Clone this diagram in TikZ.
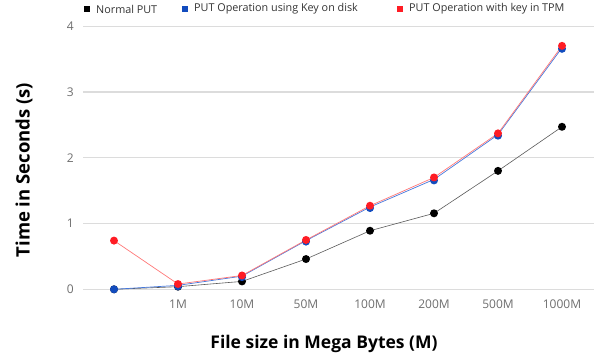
\documentclass[tikz,border=0pt]{standalone}
\usepackage{fontspec}
\setmainfont{Open Sans}
\newfontfamily\titlefont{Open Sans}
\definecolor{gridc}{RGB}{220,220,220}
\definecolor{tickc}{RGB}{110,110,110}
\definecolor{blk}{RGB}{0,0,0}
\definecolor{blu}{RGB}{18,76,190}
\definecolor{rd}{RGB}{255,28,36}
\definecolor{rdline}{RGB}{255,120,120}
\definecolor{bluline}{RGB}{70,120,220}
\definecolor{blkline}{RGB}{90,90,90}
\begin{document}
\begin{tikzpicture}[x=1pt,y=-1pt,
  grid/.style={gridc,line width=1.2pt},
  ticklab/.style={text=tickc,font=\fontsize{12}{14}\selectfont,inner sep=0pt},
  leglab/.style={text=black!80,font=\fontsize{10.8}{12}\selectfont,anchor=west,inner sep=0pt},
  axtitle/.style={font=\titlefont\bfseries\fontsize{17.5}{20}\selectfont,inner sep=0pt},
  dotb/.style={circle,fill=blk,inner sep=0pt,minimum size=8pt},
  dotu/.style={circle,fill=blu,inner sep=0pt,minimum size=8pt},
  dotr/.style={circle,fill=rd,inner sep=0pt,minimum size=8pt},
  lineb/.style={blkline,line width=0.6pt},
  lineu/.style={bluline,line width=0.7pt},
  liner/.style={rdline,line width=0.7pt}]
\useasboundingbox (0,0) rectangle (601,360);
% gridlines (y0=289.3, 65.8 per unit)
\foreach \v in {0,1,2,3,4}{
  \draw[grid] (83,{289.3-65.8*\v}) -- (594,{289.3-65.8*\v});
  \node[ticklab,anchor=east] (yl\v) at (74,{289.3-65.8*\v}) {\v};
}
% x labels
\foreach \i/\l in {1/1M,2/10M,3/50M,4/100M,5/200M,6/500M,7/1000M}{
  \node[ticklab] (xl\i) at ({114+64*\i},304) {\l};
}
% data
\foreach \i/\b/\u/\r in {0/0/0/0.74,1/0.04/0.06/0.08,2/0.12/0.20/0.21,3/0.46/0.74/0.75,4/0.89/1.25/1.27,5/1.155/1.67/1.70,6/1.80/2.35/2.37,7/2.47/3.67/3.70}{
  \coordinate (b\i) at ({114+64*\i},{289.3-65.8*\b});
  \coordinate (u\i) at ({114+64*\i},{289.3-65.8*\u});
  \coordinate (r\i) at ({114+64*\i},{289.3-65.8*\r});
}
\draw[lineb] (b0)--(b1)--(b2)--(b3)--(b4)--(b5)--(b6)--(b7);
\foreach \i in {0,...,7}{\node[dotb] (nb\i) at (b\i) {};}
\draw[lineu] (u0)--(u1)--(u2)--(u3)--(u4)--(u5)--(u6)--(u7);
\draw[liner] (r0)--(r1)--(r2)--(r3)--(r4)--(r5)--(r6)--(r7);
\foreach \i in {1,...,7}{\node[dotu] (nu\i) at ([yshift=-1pt]u\i) {};}
\foreach \i in {1,...,7}{\node[dotr] (nr\i) at (r\i) {};}
\node[dotr] (nr0) at (r0) {};
\node[dotu] (nu0) at (u0) {};
% legend
\node[fill=blk,minimum size=6pt,inner sep=0pt] (lgb) at (87,9) {};
\node[leglab] (lgbt) at (96,9) {Normal PUT};
\node[fill=blu,minimum size=6pt,inner sep=0pt] (lgu) at (185,9) {};
\node[leglab] (lgut) at (194,9) {PUT Operation using Key on disk};
\node[fill=rd,minimum size=6pt,inner sep=0pt] (lgr) at (400,9) {};
\node[leglab] (lgrt) at (409,9) {PUT Operation with key in TPM};
% axis titles
\node[axtitle,rotate=90,font=\titlefont\bfseries\fontsize{18.5}{20}\selectfont] (yt) at (24,170) {Time in Seconds (s)};
\node[axtitle] (xt) at (324,344) {File size in Mega Bytes (M)};
\end{tikzpicture}
\end{document}
